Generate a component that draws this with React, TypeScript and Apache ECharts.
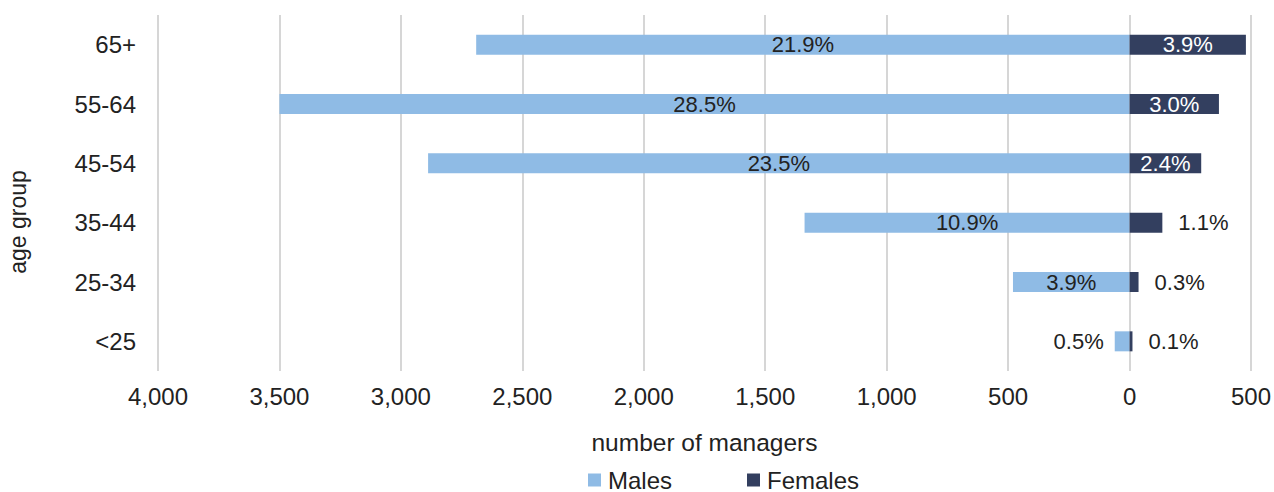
import React, { useEffect, useRef } from "react";
import * as echarts from "echarts";

const categories = ["<25", "25-34", "35-44", "45-54", "55-64", "65+"];
const malesValues = [61, 480, 1338, 2888, 3500, 2690];
const femalesValues = [12, 37, 135, 295, 368, 479];
const malesPct = ["0.5%", "3.9%", "10.9%", "23.5%", "28.5%", "21.9%"];
const femalesPct = ["0.1%", "0.3%", "1.1%", "2.4%", "3.0%", "3.9%"];
const femalesInside = [false, false, false, true, true, true];
const malesInside = [false, true, true, true, true, true];

const FONT = "Liberation Sans, Arial, sans-serif";

export default function App() {
  const ref = useRef<HTMLDivElement>(null);
  useEffect(() => {
    if (!ref.current) return;
    const chart = echarts.init(ref.current, undefined, { renderer: "svg" });
    chart.setOption({
      animation: false,
      textStyle: { fontFamily: FONT },
      grid: { left: 158, right: 23, top: 15, bottom: 121, outerBoundsMode: "none" },
      legend: {
        top: 468,
        left: 588,
        padding: 0,
        itemWidth: 13,
        itemHeight: 13,
        itemGap: 75,
        icon: "rect",
        textStyle: {
          fontSize: 24,
          lineHeight: 22,
          color: "#222",
          fontFamily: FONT,
          padding: [0, 0, 0, 2],
        },
        data: ["Males", "Females"],
      },
      xAxis: {
        type: "value",
        min: -4000,
        max: 500,
        interval: 500,
        name: "number of managers",
        nameLocation: "middle",
        nameGap: 59,
        nameTextStyle: { fontSize: 24.5, color: "#222", fontFamily: FONT },
        axisLine: { show: false },
        axisTick: { show: false },
        axisLabel: {
          fontSize: 24,
          color: "#222",
          margin: 13,
          fontFamily: FONT,
          formatter: (v: number) => Math.abs(v).toLocaleString("en-US"),
        },
        splitLine: { show: true, lineStyle: { color: "#d6d6d6", width: 2 } },
      },
      yAxis: {
        type: "category",
        data: categories,
        name: "age group",
        nameLocation: "middle",
        nameGap: 129,
        nameRotate: 90,
        nameTextStyle: {
          fontSize: 23,
          color: "#222",
          fontFamily: FONT,
          padding: [0, 58, 0, 0],
        },
        axisLine: { show: false },
        axisTick: { show: false },
        axisLabel: { fontSize: 24, color: "#222", margin: 22, fontFamily: FONT },
      },
      series: [
        {
          name: "Males",
          type: "bar",
          stack: "total",
          barWidth: 20,
          itemStyle: { color: "#8fbbe5" },
          data: malesValues.map((v, i) => ({
            value: -v,
            label: {
              show: true,
              position: malesInside[i] ? "inside" : "left",
              distance: 11,
              formatter: malesPct[i],
              color: "#222",
              fontSize: 22,
              fontFamily: FONT,
            },
          })),
        },
        {
          name: "Females",
          type: "bar",
          stack: "total",
          barWidth: 20,
          itemStyle: { color: "#333f5f" },
          data: femalesValues.map((v, i) => ({
            value: v,
            label: {
              show: true,
              position: femalesInside[i] ? "inside" : "right",
              distance: 16,
              formatter: femalesPct[i],
              color: femalesInside[i] ? "#fff" : "#222",
              fontSize: 22,
              fontFamily: FONT,
            },
          })),
        },
      ],
    });
    return () => chart.dispose();
  }, []);
  return (
    <div
      ref={ref}
      style={{ position: "absolute", left: 0, top: 0, width: 1274, height: 492 }}
    />
  );
}
